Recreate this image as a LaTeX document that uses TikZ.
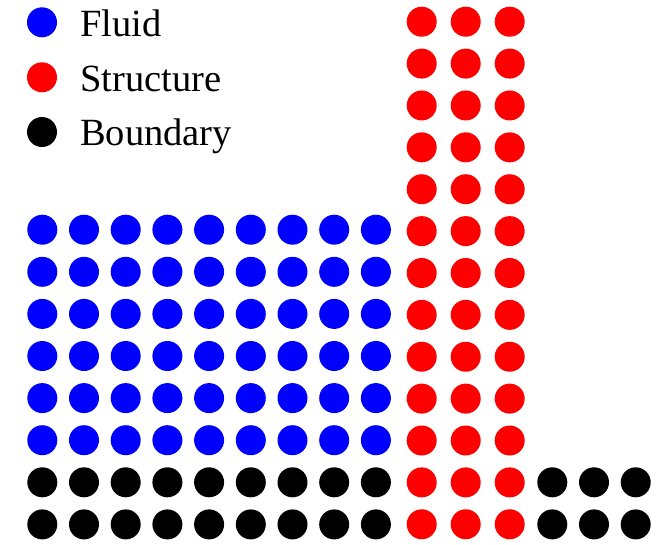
\documentclass[tikz,border=0pt]{standalone}
\usepackage{fontspec}
\setmainfont{Liberation Serif}
\usepackage{xcolor}
\definecolor{cFluid}{HTML}{0000FF}
\definecolor{cSolid}{HTML}{FF0000}
\definecolor{cWall}{HTML}{000000}
\usepackage{tikz}
\usetikzlibrary{positioning}
\tikzset{
  dot-fluid/.style={fill=cFluid},
  dot-solid/.style={fill=cSolid},
  dot-wall/.style={fill=cWall},
  legend-text/.style={anchor=base west,inner sep=0pt,
    font=\fontsize{38.5}{46}\selectfont},
}
\newcommand{\dotr}{15}

\begin{document}
\begin{tikzpicture}[x=1pt,y=-1pt]
  \useasboundingbox (0,0) rectangle (672,544);
  % legend
  \fill[dot-fluid] (42,22.3) circle (\dotr);
  \fill[dot-solid] (42,77.3) circle (\dotr);
  \fill[dot-wall]  (42,132) circle (\dotr);
  \node[legend-text] (l-fluid) at (80,36) {Fluid};
  \node[legend-text] (l-solid) at (80,91) {Structure};
  \node[legend-text] (l-wall)  at (80,145.5) {Boundary};
  % fluid block, 9 x 6
  \foreach \i in {0,...,8}
    \foreach \j in {0,...,5}
      \fill[dot-fluid] ({42.3+41.7*\i},{229.7+42.1*\j}) circle (\dotr);
  % boundary under the fluid, 9 x 2
  \foreach \i in {0,...,8}
    \foreach \j in {6,7}
      \fill[dot-wall] ({42.3+41.7*\i},{229.7+42.1*\j}) circle (\dotr);
  % structure column, 3 x 13
  \foreach \i in {0,1,2}
    \foreach \j in {0,...,12}
      \fill[dot-solid] ({421.7+44*\i},{21.7+41.88*\j}) circle (\dotr);
  % boundary right of the structure, 3 x 2
  \foreach \i in {0,1,2}
    \foreach \j in {6,7}
      \fill[dot-wall] ({552.3+41.7*\i},{229.7+42.1*\j}) circle (\dotr);
\end{tikzpicture}
\end{document}
